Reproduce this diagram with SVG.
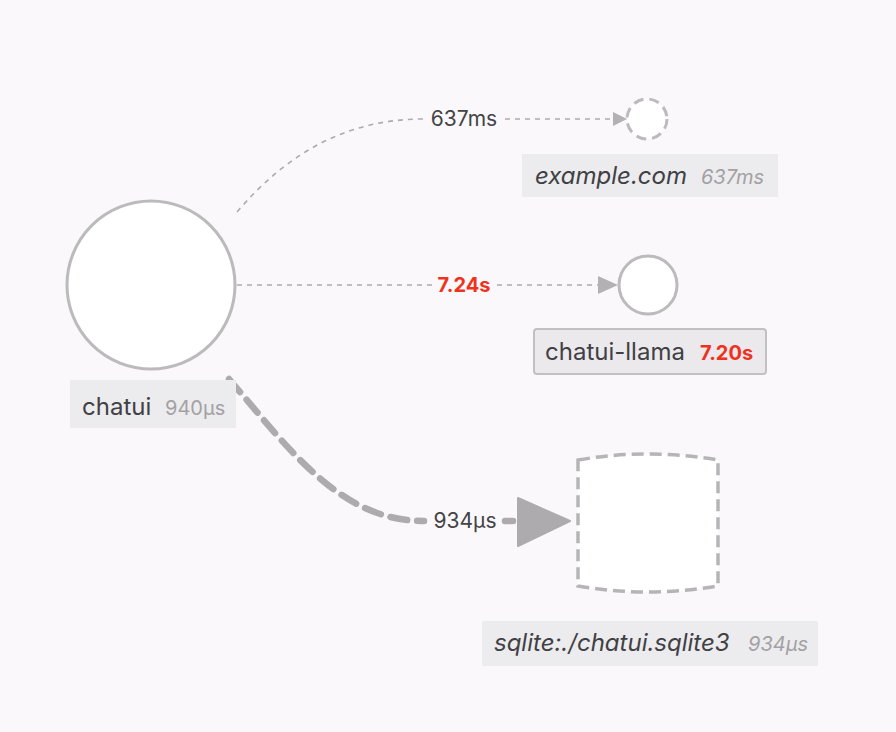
<svg xmlns="http://www.w3.org/2000/svg" width="896" height="732" viewBox="0 0 896 732">
<style>
.bg{fill:#faf8fa}
.node{fill:#ffffff;stroke:#bcbabd;stroke-width:3}
.lbl{fill:#ecebed}
.t{font-family:Inter,"Liberation Sans",sans-serif;font-size:24px;fill:#414045}
.s{font-family:Inter,"Liberation Sans",sans-serif;font-size:20px;fill:#a3a1a5}
.it{font-style:italic}
.red{fill:#ef3220;font-weight:bold}
.e{fill:none;stroke:#adabae;stroke-width:1.6;stroke-dasharray:5 5}
.el{font-family:Inter,"Liberation Sans",sans-serif;font-size:21px;fill:#444347}
</style>
<rect class="bg" width="896" height="732"/>
<g id="connectors">
<path class="e" d="M237,212 C290,150 350,119 424,119"/>
<path class="e" d="M505,119 L613,119"/>
<polygon points="613,112 627,119 613,126" fill="#b3b1b4"/>
<path class="e" d="M237,285 L432,285"/>
<path class="e" d="M497,285 L600,285"/>
<polygon points="598,276 618,285 598,294" fill="#b3b1b4"/>
<text class="el" x="464" y="292" text-anchor="middle" style="fill:#ef3220;font-weight:bold;font-size:20px">7.24s</text>
<text class="el" x="464" y="126" text-anchor="middle">637ms</text>
<path d="M229,379 C290,450 340,521 424,521" fill="none" stroke="#adabae" stroke-width="6.5" stroke-linecap="round" stroke-dasharray="17 10"/>
<path d="M505,521 L513,521" fill="none" stroke="#adabae" stroke-width="6.5" stroke-linecap="round"/>
<polygon points="518,498 570,521 518,546" fill="#adabae" stroke="#adabae" stroke-width="2" stroke-linejoin="round"/>
<text class="el" x="465" y="528" text-anchor="middle">934μs</text>
</g>
<g id="chatui">
<circle class="node" cx="151" cy="285" r="84"/>
<rect class="lbl" x="70" y="380" width="166" height="48"/>
<text class="t" x="82" y="415">chatui</text>
<text class="s" x="165" y="415">940μs</text>
</g>
<g id="example">
<circle cx="647" cy="119" r="20" fill="#ffffff" stroke="#bcbabd" stroke-width="3" stroke-dasharray="10 6"/>
<rect class="lbl" x="522" y="154" width="256" height="43"/>
<text class="t it" x="535" y="184">example.com</text>
<text class="s it" x="701" y="184">637ms</text>
</g>
<g id="chatui-llama">
<circle class="node" cx="648" cy="285" r="29"/>
<rect x="534" y="329" width="232" height="45" rx="3" fill="#ebe9ec" stroke="#c2c0c3" stroke-width="2"/>
<text class="t" x="545" y="360">chatui-llama</text>
<text class="s red" x="700" y="360">7.20s</text>
</g>
<g id="sqlite">
<path d="M578,460 Q648,448 718,460 L718,586 Q648,598 578,586 Z" fill="#ffffff" stroke="#b6b4b7" stroke-width="3.5" stroke-dasharray="12 6"/>
<rect class="lbl" x="482" y="621" width="336" height="45" rx="2"/>
<text class="t it" x="494" y="651">sqlite:./chatui.sqlite3</text>
<text class="s it" x="748" y="651">934μs</text>
</g>
</svg>
